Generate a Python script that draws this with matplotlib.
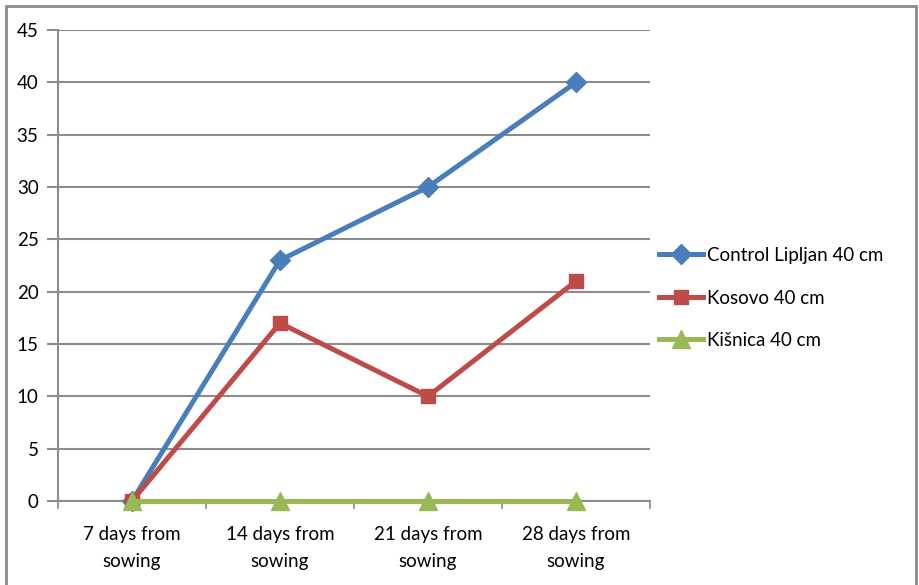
#!/usr/bin/env python3

import numpy as np
import matplotlib
matplotlib.use('Agg')
import matplotlib.pyplot as plt
from matplotlib.patches import Rectangle

plt.rcParams['font.family']= ['Lato', 'DejaVu Sans']

categories= ['7 days from\nsowing', '14 days from\nsowing', '21 days from\nsowing', '28 days from\nsowing']
control_lipljan= [0, 23, 30, 40]
kosovo= [0, 17, 10, 21]
kisnica= [0, 0, 0, 0]
series_names= ['Control Lipljan 40 cm', 'Kosovo 40 cm', 'Kišnica 40 cm']

grid_col= '#8c8c8c'

fig= plt.figure(figsize=(9.2,5.85), dpi=100)
ax= fig.add_axes([0.063, 0.1436, 0.6435, 0.8051])

x= np.arange(len(categories))
ax.plot(x, control_lipljan, color='#4a7ebb', lw=3.6, marker='D', ms=10, label=series_names[0], zorder=3, clip_on=False)
ax.plot(x, kosovo, color='#be4b48', lw=3.6, marker='s', ms=10, label=series_names[1], zorder=4, clip_on=False)
ax.plot(x, kisnica, color='#98b954', lw=3.6, marker='^', ms=13, label=series_names[2], zorder=5, clip_on=False)

ax.set_xlim(-0.5, len(categories)-0.5)
ax.set_ylim(0, 45)
ax.set_yticks(np.arange(0, 46, 5))
ax.yaxis.grid(True, color=grid_col, lw=1.5)
ax.set_axisbelow(True)

# category boundaries carry the tick marks, labels sit at the centres
ax.set_xticks(np.arange(-0.5, len(categories), 1.0))
ax.set_xticklabels([])
ax.set_xticks(x, minor=True)
ax.set_xticklabels(categories, minor=True, fontsize=13.5, linespacing=1.7)
ax.tick_params(axis='x', which='major', length=6, width=1.2, color=grid_col, direction='out')
ax.tick_params(axis='x', which='minor', length=0, pad=18)
ax.tick_params(axis='y', length=8, width=1.5, color=grid_col, labelsize=13.5, pad=6)

for s in ['top','right']:
    ax.spines[s].set_visible(False)
for s in ['left','bottom']:
    ax.spines[s].set_color(grid_col)
    ax.spines[s].set_linewidth(1.5)
ax.spines['bottom'].set_zorder(2)

leg= ax.legend(loc='center left', bbox_to_anchor=(1.0, 0.431), frameon=False, fontsize=13.5,
               handlelength=2.35, handletextpad=0.2, labelspacing=1.36, borderaxespad=0.1)

fig.patches.append(Rectangle((6/920, -0.05), 910/920, 1.05-6/585, transform=fig.transFigure,
                             fill=False, ec='#8c8c8c', lw=2))

plt.savefig('out.png', dpi=100)
